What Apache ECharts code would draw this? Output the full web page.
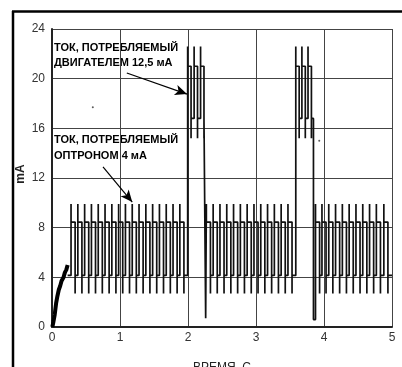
<!DOCTYPE html>
<html><head><meta charset="utf-8">
<script src="https://cdn.jsdelivr.net/npm/echarts@6/dist/echarts.min.js"></script>
<style>html,body{margin:0;padding:0;background:#fff}#c{width:402px;height:367px}</style>
</head><body><div id="c"></div>
<script>
// ---- data ----
const xTicks = [0, 1, 2, 3, 4, 5];
const yTicks = [0, 4, 8, 12, 16, 20, 24];
// initial ramp (time s, current mA)
const rampTime  = [0.005, 0.02, 0.04, 0.06, 0.08, 0.10, 0.12, 0.14, 0.17, 0.19, 0.21, 0.23];
const rampValue = [0.0,   0.4,  1.0,  1.9,  2.5,  3.0,  3.3,  3.7,  4.0,  4.4,  4.6,  5.0];
// rising-edge times of opto pulses, three bursts
const optoRiseA = [0.28, 0.38, 0.48, 0.58, 0.68, 0.78, 0.88, 0.98, 1.08, 1.18, 1.28, 1.38, 1.48, 1.58, 1.68, 1.78, 1.88];
const optoRiseB = [2.27, 2.37, 2.47, 2.57, 2.67, 2.77, 2.87, 2.97, 3.07, 3.17, 3.27, 3.37, 3.47];
const optoRiseC = [3.875, 3.97, 4.07, 4.17, 4.27, 4.37, 4.47, 4.57, 4.67, 4.77, 4.88];
// rising-edge times of motor pulses, two bursts
const motorRise1 = [1.995, 2.09, 2.185];
const motorRise2 = [3.585, 3.675, 3.765];
// dips after motor bursts
const dropTime  = [2.26, 3.845];
const dropValue = [0.7, 0.6];
// levels: [low spike, low, high, high spike]
const optoLevels  = [2.7, 4.15, 8.45, 9.9];
const motorLevels = [15.2, 16.8, 21.0, 22.6];
const optoWidth = 0.06, motorWidth = 0.05;
const traceEnd = 5.0;
// stray specks on the scan
const speckTime  = [0.60, 3.93];
const speckValue = [17.7, 15.0];

// ---- build trace ----
const trace = [];
let cur = optoLevels[1];
function train(rises, width, lv) {
  rises.forEach(r => {
    const f = r + width;
    trace.push([r, cur], [r, lv[3]], [r, lv[2]], [f, lv[2]], [f, lv[0]], [f, lv[1]]);
    cur = lv[1];
  });
}
function drop(i) {
  trace.push([dropTime[i], cur], [dropTime[i], dropValue[i]]);
  cur = dropValue[i];
}
const ramp = rampTime.map((t, i) => [t, rampValue[i]]);
trace.push([rampTime[rampTime.length - 1], optoLevels[1]]);
train(optoRiseA, optoWidth, optoLevels);
train(motorRise1, motorWidth, motorLevels);
drop(0);
train(optoRiseB, optoWidth, optoLevels);
train(motorRise2, motorWidth, motorLevels);
drop(1);
train(optoRiseC, optoWidth, optoLevels);
trace.push([traceEnd, cur]);

const chart = echarts.init(document.getElementById('c'), null, {renderer: 'canvas'});
const txt = {fontFamily: 'Liberation Sans, Arial, sans-serif', fontWeight: 'bold', fontSize: 11, fill: '#000'};
chart.setOption({
  animation: false,
  backgroundColor: '#fff',
  grid: {left: 52, right: 10, top: 29, bottom: 40, containLabel: false, outerBoundsMode: 'none'},
  xAxis: {
    type: 'value', min: 0, max: 5, interval: 1,
    name: 'ВРЕМЯ, С', nameLocation: 'middle', nameGap: 35, nameMoveOverlap: false,
    nameTextStyle: {fontFamily: 'Liberation Sans, Arial', fontSize: 12, color: '#222'},
    axisLine: {show: true, lineStyle: {color: '#222', width: 2}},
    axisTick: {show: false},
    axisLabel: {color: '#333', fontSize: 12, fontFamily: 'Liberation Sans, Arial', margin: 5,
      formatter: v => xTicks.includes(v) ? String(v) : ''},
    splitLine: {show: true, lineStyle: {color: '#444', width: 1}}
  },
  yAxis: {
    type: 'value', min: 0, max: 24, interval: 4,
    axisLine: {show: true, lineStyle: {color: '#222', width: 2}},
    axisTick: {show: false},
    axisLabel: {color: '#333', fontSize: 12, fontFamily: 'Liberation Sans, Arial', margin: 7,
      formatter: v => yTicks.includes(v) ? String(v) : ''},
    splitLine: {show: true, lineStyle: {color: '#444', width: 1}}
  },
  series: [
    {type: 'line', data: trace, showSymbol: false, symbol: 'none', silent: true,
     lineStyle: {color: '#111', width: 1.7}, z: 3,
     markLine: {silent: true, symbol: ['none', 'arrow'], symbolSize: [8, 12],
       label: {show: false}, lineStyle: {color: '#000', width: 1.2, type: 'solid'},
       data: [
         [{coord: [1.10, 20.46]}, {coord: [1.985, 18.76]}],
         [{coord: [0.75, 12.9]}, {coord: [1.18, 10.06]}]
       ]}},
    {type: 'line', data: ramp, showSymbol: false, symbol: 'none', silent: true,
     lineStyle: {color: '#000', width: 4}, z: 4},
    {type: 'scatter', data: speckTime.map((t, i) => [t, speckValue[i]]), symbolSize: 2,
     itemStyle: {color: '#333'}, silent: true}
  ],
  graphic: [
    {type: 'line', shape: {x1: 13, y1: 11, x2: 13, y2: 367}, style: {stroke: '#000', lineWidth: 2.5}},
    {type: 'line', shape: {x1: 12, y1: 11.5, x2: 402, y2: 11.5}, style: {stroke: '#000', lineWidth: 2.5}},
    {type: 'text', x: 21, y: 174, rotation: Math.PI / 2,
     style: {text: 'mA', fontFamily: 'Liberation Sans, Arial', fontSize: 12, fontWeight: 'bold', fill: '#222',
             align: 'center', verticalAlign: 'middle'}},
    {type: 'text', left: 54, top: 42, style: Object.assign({text: 'ТОК, ПОТРЕБЛЯЕМЫЙ'}, txt)},
    {type: 'text', left: 54, top: 57, style: Object.assign({text: 'ДВИГАТЕЛЕМ 12,5 мА'}, txt)},
    {type: 'text', left: 54, top: 134, style: Object.assign({text: 'ТОК, ПОТРЕБЛЯЕМЫЙ'}, txt)},
    {type: 'text', left: 54, top: 150, style: Object.assign({text: 'ОПТРОНОМ 4 мА'}, txt)}
  ]
});
</script></body></html>
